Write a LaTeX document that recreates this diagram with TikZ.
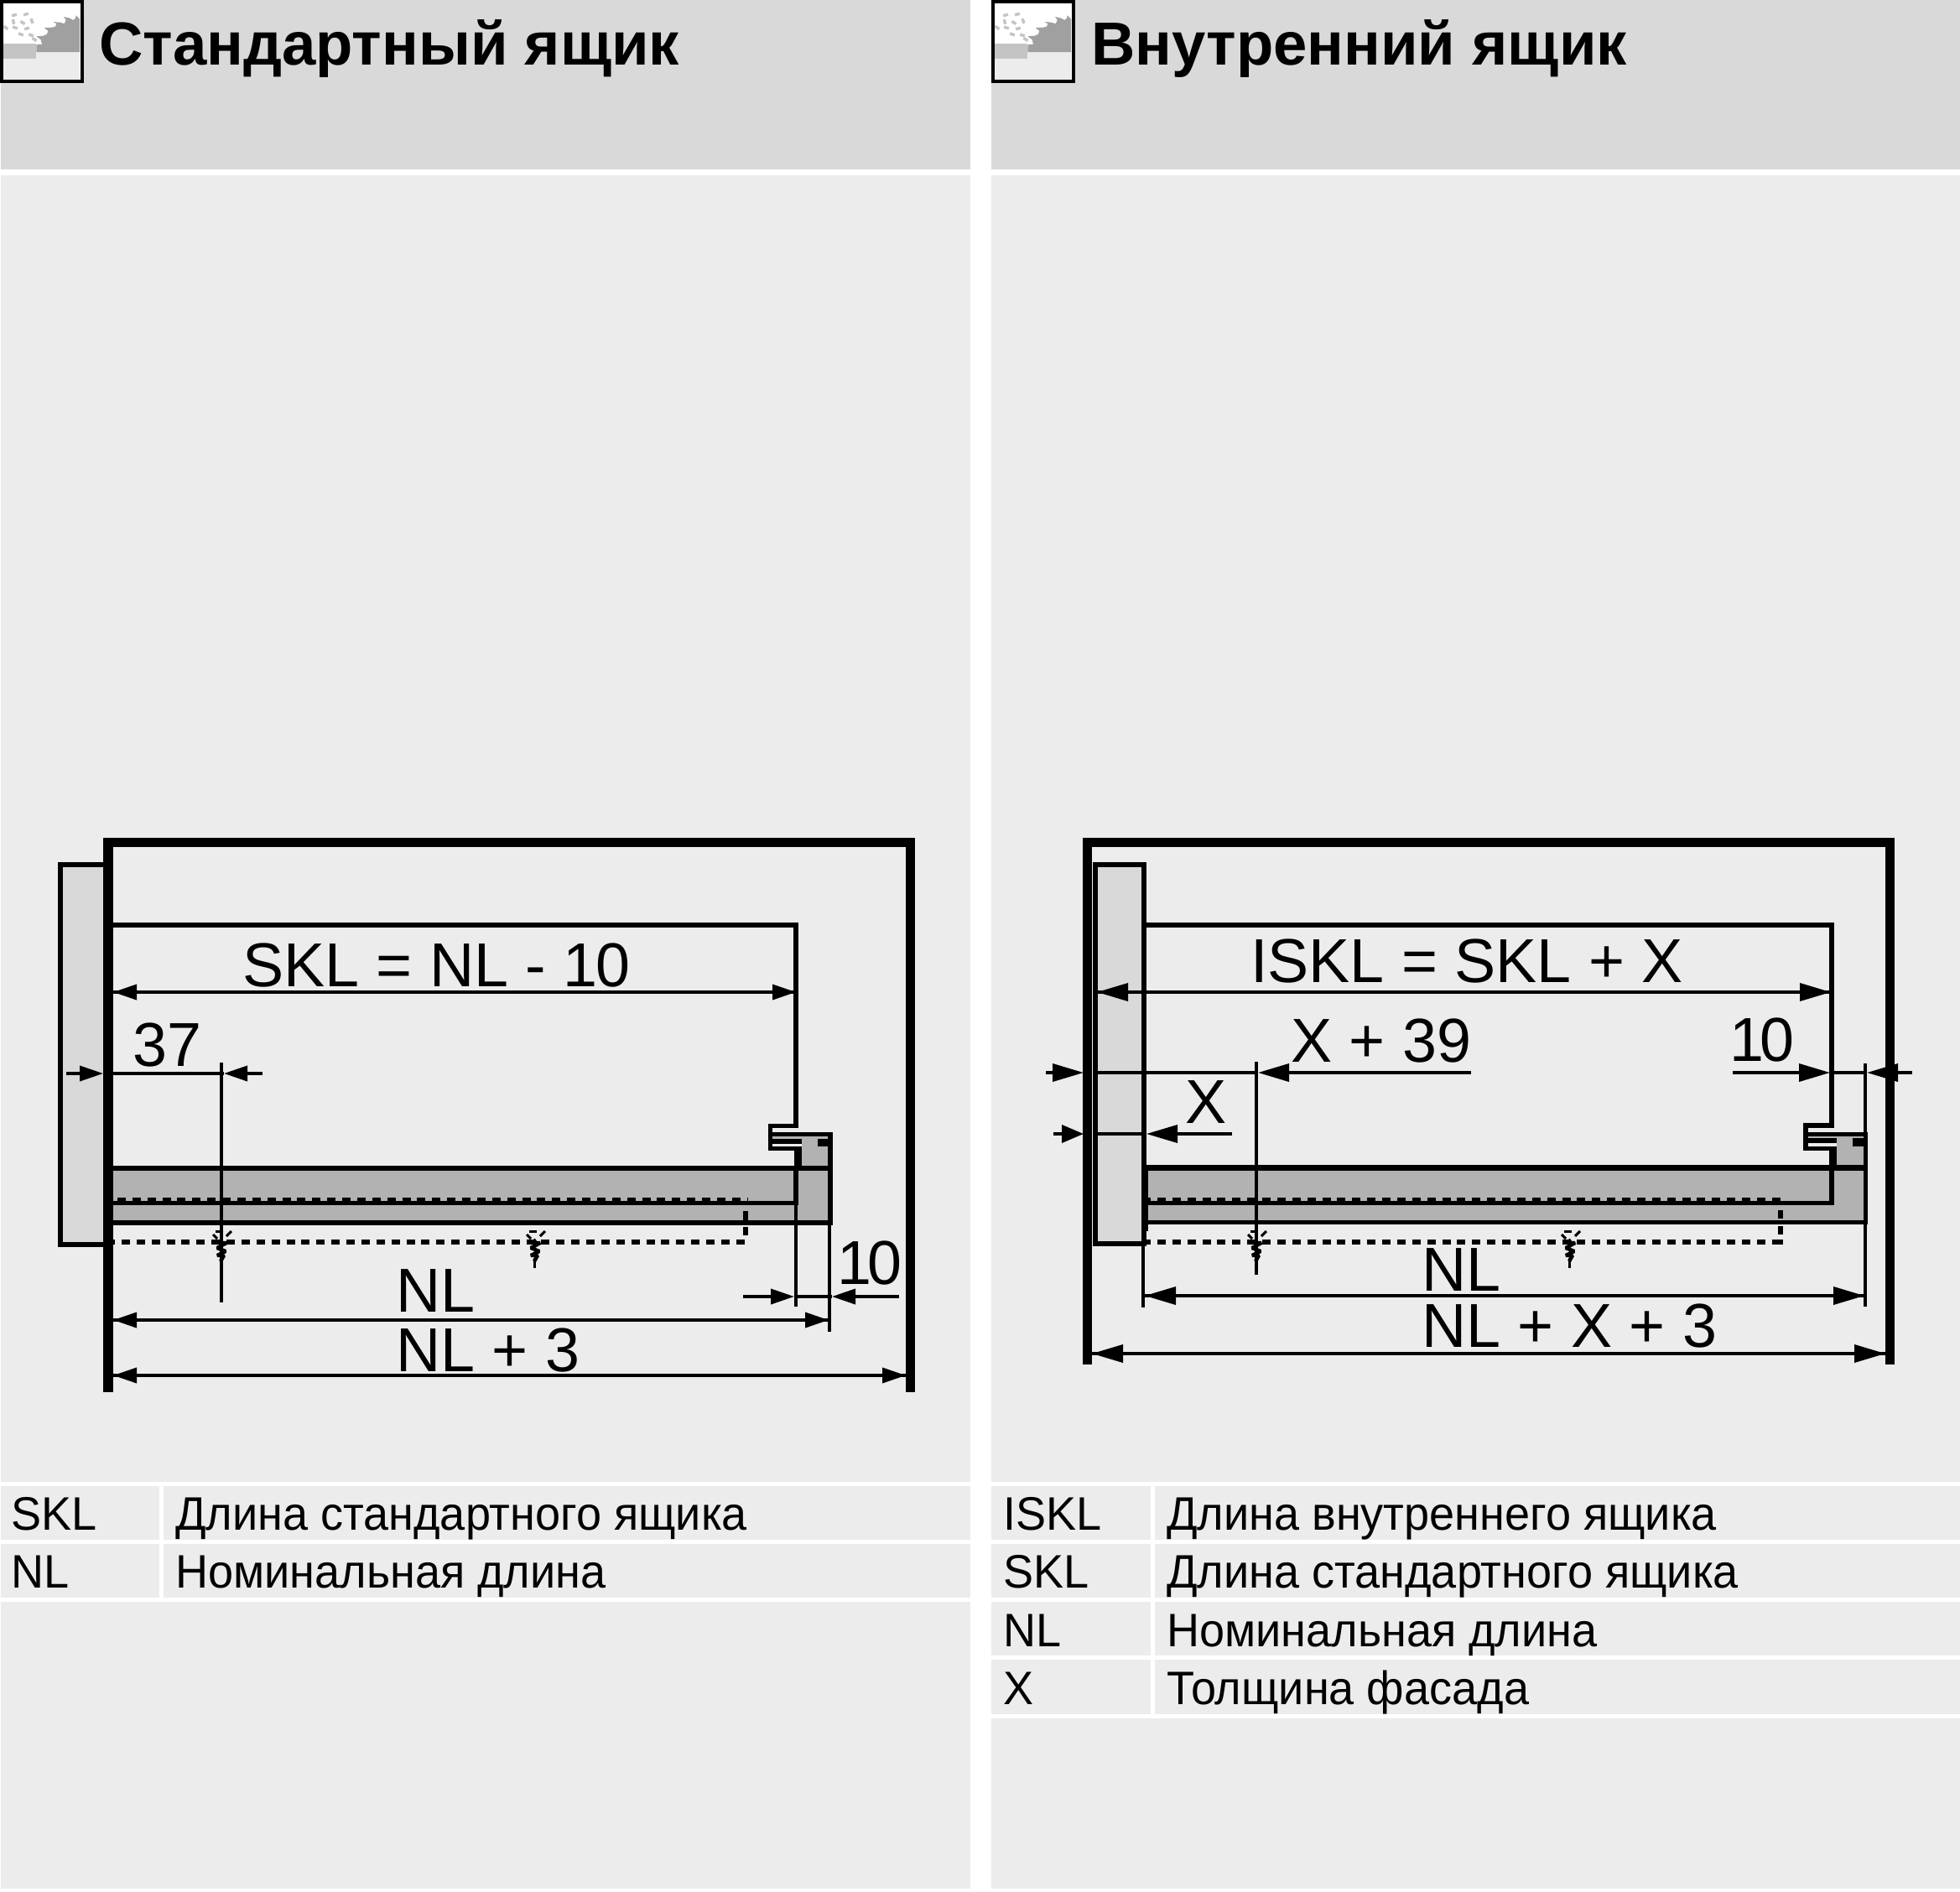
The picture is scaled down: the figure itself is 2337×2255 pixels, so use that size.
\documentclass[tikz,border=0pt]{standalone}
\usepackage{fontspec}
\setmainfont{Liberation Sans}
\newfontfamily\rowfont[FakeStretch=0.965]{Liberation Sans}
\newfontfamily\dimfont[FakeStretch=0.995]{Liberation Sans}
\usetikzlibrary{arrows.meta}
\definecolor{headgray}{HTML}{D9D9D9}
\definecolor{bodygray}{HTML}{ECECEC}
\definecolor{railgray}{HTML}{B2B2B2}
\definecolor{sawgray}{HTML}{A0A0A0}
\definecolor{blockgray}{HTML}{C4C4C4}
\tikzset{
  wall/.style={line width=11.8pt,line join=miter},
  frontpanel/.style={draw,line width=6pt,fill=headgray},
  outline/.style={line width=5.5pt},
  thin line/.style={line width=4pt},
  dashrow/.style={line width=5.5pt,dash pattern=on 10pt off 7.875pt},
  dimA/.style={line width=3.6pt,-{Triangle[length=28pt,width=18pt]}},
  dimB/.style={line width=3.6pt,-{Triangle[length=37pt,width=21pt]}},
  dimtext/.style={anchor=base west,inner sep=0pt,font=\dimfont\fontsize{74}{80}\selectfont},
  title/.style={anchor=base west,inner sep=0pt,font=\fontsize{72.5}{80}\selectfont\bfseries},
  rowtext/.style={anchor=base west,inner sep=0pt,font=\rowfont\fontsize{56}{60}\selectfont},
  sawicon/.pic={
    \fill[white] (0,0) rectangle (100,99);
    \fill[bodygray] (4,62) rectangle (95,95);
    \fill[sawgray] (43.3,62) -- (43.3,53.3) -- (50,52.7) -- (48.7,47.3) -- (43.3,43.3)
      -- (51.7,42.7) -- (56,40.7) -- (57.3,36.7) -- (52.7,33.3) -- (61.7,32.7) -- (66,31.7)
      -- (67.3,28.3) -- (63.3,26) -- (71.7,26.7) -- (76.7,28.3) -- (78.7,24) -- (76,20)
      -- (83.3,21.7) -- (87.3,24) -- (90,21.7) -- (90.7,18.3) -- (95,22.7) -- (95,62) -- cycle;
    \fill[blockgray] (4,52) rectangle (43,70);
    \foreach \chipx/\chipy/\chipa in {17/18/-15,31/17/-15,16/26/80,27/27/30,38/25/70,7/33/35,18/33/15,32/34/-15,25/41/20,37/42/20,41/47/30}
      \draw[blockgray,line width=3.4pt] (\chipx,\chipy) ++(\chipa:-3) -- ++(\chipa:6);
    \draw[line width=4pt] (2,2) rectangle (98,97);
  },
  screw/.pic={
    \draw[line width=3pt] (-7,18) -- (2,18);
    \draw[line width=3pt] (-10,22) -- (-5,27);
    \draw[line width=3pt] (6,24) -- (12,18);
    \draw[line width=4.4pt,line join=bevel] (-2,28) -- (1,32) -- (6,32) -- (-5,38) -- (5,42) -- (-5,47) -- (3,47) -- (-1,54);
    \draw[line width=3pt] (-1,50) -- (-1,62);
  },
}
\begin{document}
\begin{tikzpicture}[x=1pt,y=-1pt]
    \useasboundingbox (0,0) rectangle (2337,2255);
    \fill[white] (0,0) rectangle (2337,2255);
    % panels
    \fill[bodygray] (1,0) rectangle (1157,2252);
    \fill[bodygray] (1182,0) rectangle (2337,2252);
    \fill[headgray] (1,0) rectangle (1157,202);
    \fill[headgray] (1182,0) rectangle (2337,202);
    \fill[white] (0,202) rectangle (2337,209);
    \foreach \rowy in {1769,1838.5,1907.5}
      \fill[white] (0,\rowy-2.5) rectangle (1157,\rowy+2.5);
    \foreach \rowy in {1769,1838.5,1907.5,1976.5,2046.5}
      \fill[white] (1182,\rowy-2.5) rectangle (2337,\rowy+2.5);
    \fill[white] (190,1769) rectangle (195,1907.5);
    \fill[white] (1372,1769) rectangle (1377,2046.5);
    \pic at (0,0) {sawicon};
    \pic at (1182,0) {sawicon};
    \node[title] (titleA) at (118,77) {Стандартный ящик};
    \node[title] (titleB) at (1301,77) {Внутренний ящик};

    % standard drawer
    \fill[railgray] (135,1396) rectangle (987,1455);
    \fill[railgray] (956,1355) rectangle (987,1390);
    \fill[railgray] (921,1355) rectangle (956,1359);
    \draw[dashrow] (122,1431) -- (892,1431);
    \draw[dashrow] (127,1481) -- (889,1481);
    \draw[line width=5.5pt,dash pattern=on 11pt off 8pt] (889,1444) -- (889,1473);
    \draw[frontpanel] (72,1031) rectangle (129,1483.5);
    \draw[outline] (135,1103) -- (949,1103) -- (949,1342.5) -- (918.5,1342.5) -- (918.5,1369.5) -- (951,1369.5);
    \draw[line width=9pt] (951.5,1367) -- (951.5,1390);
    \draw[outline] (921,1352.5) -- (990,1352.5) -- (990,1461);
    \draw[outline] (921,1361) -- (956,1361);
    \fill (975,1358) rectangle (988,1367);
    \draw[line width=6pt] (135,1393) -- (993,1393);
    \draw[outline] (135,1434.5) -- (951.5,1434.5);
    \draw[outline] (949,1393) -- (949,1437);
    \draw[line width=6pt] (135,1458) -- (993,1458);
    \draw[wall] (129,1660) -- (129,1004.5) -- (1085.5,1004.5) -- (1085.5,1660);
    \draw[thin line] (264,1267) -- (264,1553);
    \draw[thin line] (949,1437) -- (949,1558);
    \draw[thin line] (989,1461) -- (989,1588);
    \pic at (264,1450) {screw};
    \pic at (638,1450) {screw};

    \coordinate (skla) at (135,1183);
    \coordinate (sklb) at (949,1183);
    \draw[dimA] (sklb) -- (skla);
    \draw[dimA] (skla) -- (sklb);
    \coordinate (lena) at (79,1280);
    \coordinate (lenb) at (123,1280);
    \coordinate (lenc) at (313,1280);
    \coordinate (lend) at (267,1280);
    \draw[dimA] (lena) -- (lenb);
    \draw[dimA] (lenc) -- (lend);
    \draw[line width=3.6pt] (lenb) -- (lend);
    \coordinate (tena) at (886,1546);
    \coordinate (tenb) at (947,1546);
    \coordinate (tenc) at (1072,1546);
    \coordinate (tend) at (992,1546);
    \draw[dimA] (tena) -- (tenb);
    \draw[dimA] (tenc) -- (tend);
    \draw[line width=3.6pt] (tenb) -- (tend);
    \coordinate (nla) at (135,1574);
    \coordinate (nlb) at (988,1574);
    \draw[dimA] (nla) -- (nlb);
    \draw[dimA] (nlb) -- (nla);
    \coordinate (nlpa) at (135,1640);
    \coordinate (nlpb) at (1080,1640);
    \draw[dimA] (nlpa) -- (nlpb);
    \draw[dimA] (nlpb) -- (nlpa);
    \node[dimtext] (sklText) at (289,1176) {SKL = NL - 1\kern-2pt 0};
    \node[dimtext] (lenText) at (158,1271) {37};
    \node[dimtext] (tenText) at (998,1531) {1\kern-5pt 0};
    \node[dimtext] (nlText) at (472,1564) {NL};
    \node[dimtext] (nlpText) at (472,1635) {NL + 3};

    % inner drawer
    \fill[railgray] (1369,1396) rectangle (2222,1455);
    \fill[railgray] (2190,1355) rectangle (2222,1390);
    \fill[railgray] (2156,1355) rectangle (2190,1358);
    \draw[dashrow] (1362,1431) -- (2126,1431);
    \draw[dashrow] (1362,1481) -- (2113,1481);
    \draw[line width=5.5pt] (2113,1481) -- (2126,1481);
    \draw[line width=5.5pt,dash pattern=on 10pt off 9pt] (2123,1443) -- (2123,1472);
    \draw[frontpanel] (1305.5,1031) rectangle (1364,1483);
    \draw[line width=8pt] (1365,1389) -- (1365,1468);
    \draw[outline] (1367,1103) -- (2184,1103) -- (2184,1342) -- (2153,1342) -- (2153,1369.5) -- (2184,1369.5);
    \draw[line width=9pt] (2185.5,1367) -- (2185.5,1390);
    \draw[outline] (2156,1352.5) -- (2224.5,1352.5) -- (2224.5,1460);
    \draw[outline] (2156,1360) -- (2190,1360);
    \fill (2209,1357) rectangle (2222,1367);
    \draw[line width=7pt] (1367,1392.5) -- (2227,1392.5);
    \draw[outline] (1369,1434.5) -- (2186,1434.5);
    \draw[outline] (2184,1393) -- (2184,1437);
    \draw[outline] (1367,1457.5) -- (2227,1457.5);
    \draw[wall] (1296.5,1627) -- (1296.5,1004.5) -- (2253.5,1004.5) -- (2253.5,1627);
    \draw[thin line] (1363,1486) -- (1363,1559);
    \draw[thin line] (1498,1266) -- (1498,1520);
    \draw[thin line] (2224,1268) -- (2224,1350);
    \draw[thin line] (2224,1460) -- (2224,1558);
    \pic at (1498,1450) {screw};
    \pic at (1872,1450) {screw};

    \coordinate (iskla) at (1308,1183);
    \coordinate (isklb) at (2183,1183);
    \draw[dimB] (iskla) -- (isklb);
    \draw[dimB] (isklb) -- (iskla);
    \coordinate (xla) at (1247,1279);
    \coordinate (xlb) at (1292,1279);
    \coordinate (xlc) at (1754,1279);
    \coordinate (xld) at (1500,1279);
    \draw[dimB] (xla) -- (xlb);
    \draw[dimB] (xlc) -- (xld);
    \draw[line width=3.6pt] (1309,1279) -- (xld);
    \coordinate (xa) at (1256,1352);
    \coordinate (xb) at (1292,1352);
    \coordinate (xc) at (1469,1352);
    \coordinate (xd) at (1367,1352);
    \draw[line width=3.6pt,-{Triangle[length=26pt,width=21pt]}] (xa) -- (xb);
    \draw[dimB] (xc) -- (xd);
    \draw[line width=3.6pt] (1309,1352) -- (xd);
    \coordinate (itena) at (2066,1279);
    \coordinate (itenb) at (2182,1279);
    \coordinate (itenc) at (2280,1279);
    \coordinate (itend) at (2226,1279);
    \draw[dimB] (itena) -- (itenb);
    \draw[dimB] (itenc) -- (itend);
    \draw[line width=3.6pt] (itenb) -- (itend);
    \coordinate (inla) at (1365,1545);
    \coordinate (inlb) at (2223,1545);
    \draw[dimB] (inla) -- (inlb);
    \draw[dimB] (inlb) -- (inla);
    \coordinate (inlpa) at (1302,1614);
    \coordinate (inlpb) at (2248,1614);
    \draw[dimB] (inlpa) -- (inlpb);
    \draw[dimB] (inlpb) -- (inlpa);
    \node[dimtext] (isklText) at (1491,1171) {ISKL = SKL + X};
    \node[dimtext] (xlenText) at (1539,1266) {X + 39};
    \node[dimtext] (xText) at (1413,1339) {X};
    \node[dimtext] (itenText) at (2062,1265) {1\kern-5pt 0};
    \node[dimtext] (inlText) at (1695,1539) {NL};
    \node[dimtext] (inlpText) at (1695,1606) {NL + X + 3};

    % legends
    \node[rowtext] (rowA) at (13,1824) {SKL};
    \node[rowtext] (rowAtext) at (209,1824) {Длина стандартного ящика};
    \node[rowtext] (rowB) at (13,1893) {NL};
    \node[rowtext] (rowBtext) at (209,1893) {Номинальная длина};
    \node[rowtext] (rowC) at (1196,1824) {ISKL};
    \node[rowtext] (rowCtext) at (1391,1824) {Длина внутреннего ящика};
    \node[rowtext] (rowD) at (1196,1893) {SKL};
    \node[rowtext] (rowDtext) at (1391,1893) {Длина стандартного ящика};
    \node[rowtext] (rowE) at (1196,1963) {NL};
    \node[rowtext] (rowEtext) at (1391,1963) {Номинальная длина};
    \node[rowtext] (rowF) at (1196,2032) {X};
    \node[rowtext] (rowFtext) at (1391,2032) {Толщина фасада};
\end{tikzpicture}
\end{document}
